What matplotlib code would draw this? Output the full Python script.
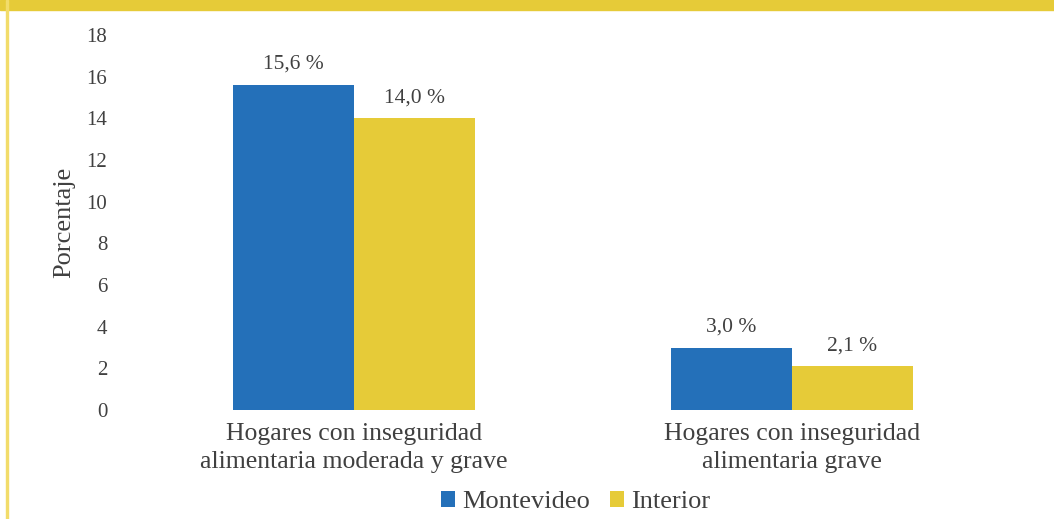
import matplotlib
matplotlib.use("Agg")
import matplotlib.pyplot as plt
import numpy as np

categories = ["Hogares con inseguridad\nalimentaria moderada y grave",
              "Hogares con inseguridad\nalimentaria grave"]
series_names = ["Montevideo", "Interior"]
montevideo = [15.6, 3.0]
interior = [14.0, 2.1]
yticks = [0, 2, 4, 6, 8, 10, 12, 14, 16, 18]

blue = "#2470B9"
yellow = "#E6CB38"
text_color = "#404040"

plt.rcParams['font.family'] = ['Liberation Serif', 'DejaVu Serif']

fig = plt.figure(figsize=(10.54, 5.19), dpi=100)
ax = fig.add_axes([0.128, 0.21, 0.831, 0.7226])

# decorative frame: yellow band on top, thin yellow line at the left
fig.patches.append(plt.Rectangle((0, 1 - 10 / 519), 1, 10 / 519,
                                 transform=fig.transFigure, color=yellow, zorder=0))
fig.patches.append(plt.Rectangle((6 / 1054, 0), 1.5 / 1054, 1,
                                 transform=fig.transFigure, color="#F2DC6A", zorder=0))

x = np.arange(len(categories))
w = 0.276
b1 = ax.bar(x - w / 2, montevideo, w, color=blue, label=series_names[0])
b2 = ax.bar(x + w / 2, interior, w, color=yellow, label=series_names[1])

for bars, vals in ((b1, montevideo), (b2, interior)):
    for r, v in zip(bars, vals):
        ax.annotate(f"{v:.1f} %".replace(".", ","),
                    (r.get_x() + r.get_width() / 2, v),
                    xytext=(0, 8), textcoords="offset points",
                    ha="center", va="bottom", fontsize=15.5, color=text_color)

ax.set_xlim(-0.5, 1.5)
ax.set_ylim(0, 18)
ax.set_yticks(yticks)
ax.set_xticks(x)
ax.set_xticklabels(categories, fontsize=18.5, color=text_color, linespacing=1.4)
ax.tick_params(axis="y", length=0, pad=20, labelsize=15, labelcolor=text_color)
ax.tick_params(axis="x", length=0, pad=9)
for s in ax.spines.values():
    s.set_visible(False)
ax.set_ylabel("Porcentaje", fontsize=19, color=text_color, labelpad=8)

ax.legend(loc="center", bbox_to_anchor=(0.503, -0.245), ncol=2, frameon=False,
          fontsize=19, handlelength=0.55, handleheight=0.55, handletextpad=0.25,
          columnspacing=0.75, labelcolor=text_color)

fig.savefig("out.png", dpi=100)
